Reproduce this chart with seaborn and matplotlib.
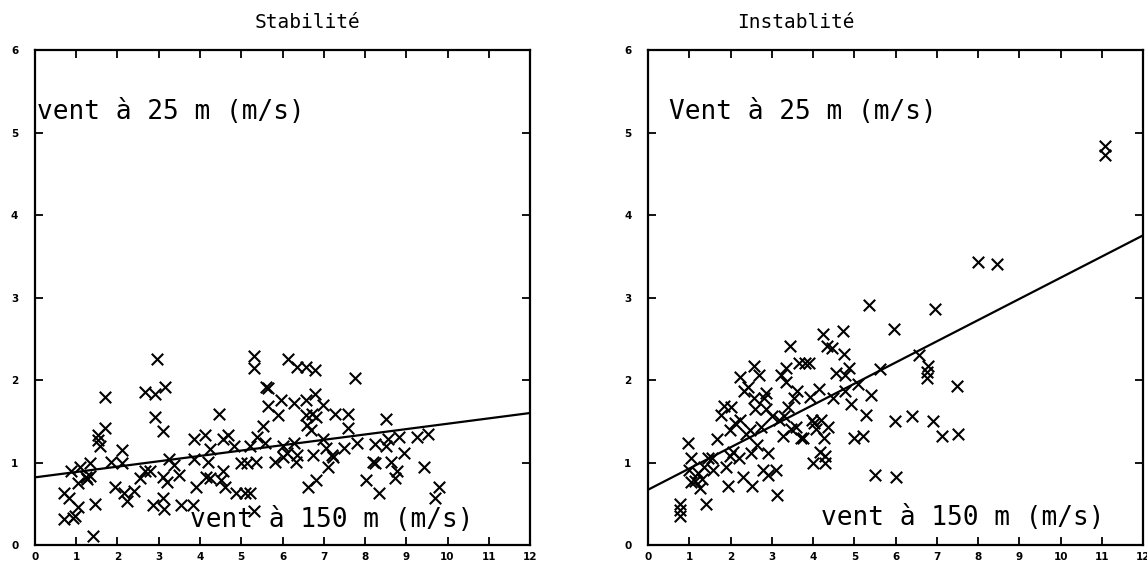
import matplotlib
matplotlib.use("Agg")
import matplotlib.pyplot as plt
import numpy as np
import pandas as pd
import seaborn as sns

# ── Data (wind at 150 m vs wind at 25 m, m/s) ────────────────────────────────

stable_x = [
    0.70, 0.70, 0.88, 0.83, 0.92, 0.96, 1.05, 1.10, 1.05, 1.23, 1.27, 1.34,
    1.34, 1.40, 1.45, 1.53, 1.58, 1.53, 1.69, 1.69, 1.84, 1.93, 2.10, 2.10,
    2.15, 2.24, 2.41, 2.54, 2.66, 2.67, 2.80, 2.85, 2.90, 2.90, 2.96, 3.10,
    3.11, 3.11, 3.13, 3.16, 3.20, 3.25, 3.38, 3.50, 3.55, 3.82, 3.86, 3.86,
    3.90, 4.12, 4.15, 4.19, 4.25, 4.25, 4.47, 4.52, 4.56, 4.56, 4.61, 4.69,
    4.82, 4.87, 5.00, 5.09, 5.13, 5.22, 5.22, 5.31, 5.32, 5.32, 5.35, 5.39,
    5.53, 5.57, 5.61, 5.64, 5.64, 5.83, 5.88, 5.96, 6.00, 6.00, 6.10, 6.14,
    6.27, 6.29, 6.32, 6.34, 6.36, 6.58, 6.58, 6.58, 6.60, 6.62, 6.69, 6.71,
    6.75, 6.78, 6.78, 6.80, 6.80, 6.97, 6.97, 7.06, 7.10, 7.19, 7.23, 7.28,
    7.50, 7.59, 7.59, 7.76, 7.81, 8.03, 8.20, 8.25, 8.25, 8.33, 8.51, 8.51,
    8.55, 8.64, 8.73, 8.77, 8.82, 8.95, 9.25, 9.43, 9.52, 9.70, 9.79,
]
stable_y = [
    0.63, 0.31, 0.90, 0.57, 0.33, 0.35, 0.75, 0.95, 0.46, 0.82, 0.80, 0.99,
    0.84, 0.11, 0.50, 1.27, 1.20, 1.33, 1.42, 1.79, 1.01, 0.70, 1.15, 0.99,
    0.63, 0.53, 0.66, 0.81, 0.90, 1.85, 0.90, 0.48, 1.83, 1.55, 2.25, 1.38,
    0.83, 0.57, 0.44, 1.92, 0.76, 1.04, 0.97, 0.85, 0.48, 0.48, 1.04, 1.28,
    0.70, 1.33, 0.83, 1.01, 1.16, 0.81, 1.59, 0.79, 0.90, 1.28, 0.70, 1.33,
    1.20, 0.63, 0.99, 0.63, 0.99, 1.20, 0.63, 0.41, 2.29, 2.14, 1.01, 1.31,
    1.44, 1.24, 1.92, 1.68, 1.90, 1.01, 1.57, 1.76, 1.20, 1.07, 1.11, 2.25,
    1.72, 1.24, 1.01, 2.16, 1.09, 2.16, 1.76, 1.57, 1.46, 0.70, 1.39, 1.59,
    1.09, 2.12, 1.83, 0.79, 1.55, 1.70, 1.29, 1.18, 0.95, 1.09, 1.07, 1.59,
    1.18, 1.59, 1.42, 2.03, 1.24, 0.79, 1.01, 1.22, 0.99, 0.63, 1.53, 1.20,
    1.29, 1.01, 0.81, 0.90, 1.31, 1.11, 1.31, 0.95, 1.35, 0.57, 0.70,
]

unstable_x = [
    0.78, 0.78, 0.78, 0.98, 1.05, 1.00, 1.05, 1.14, 1.22, 1.27, 1.31, 1.40,
    1.36, 1.45, 1.54, 1.58, 1.67, 1.76, 1.85, 1.89, 1.93, 1.98, 1.98, 2.02,
    2.07, 2.11, 2.20, 2.24, 2.24, 2.29, 2.33, 2.38, 2.42, 2.47, 2.49, 2.51,
    2.56, 2.56, 2.60, 2.64, 2.69, 2.73, 2.78, 2.82, 2.85, 2.87, 2.91, 2.91,
    3.00, 3.09, 3.13, 3.18, 3.22, 3.27, 3.29, 3.35, 3.35, 3.40, 3.44, 3.47,
    3.53, 3.58, 3.62, 3.66, 3.71, 3.75, 3.80, 3.91, 3.93, 3.97, 4.00, 4.02,
    4.06, 4.15, 4.18, 4.20, 4.24, 4.27, 4.29, 4.29, 4.33, 4.37, 4.46, 4.48,
    4.55, 4.73, 4.75, 4.77, 4.77, 4.86, 4.91, 5.00, 5.08, 5.22, 5.29, 5.35,
    5.40, 5.51, 5.62, 5.97, 5.99, 6.02, 6.40, 6.57, 6.77, 6.77, 6.79, 6.90,
    6.95, 7.12, 7.48, 7.52, 8.01, 8.46, 11.07, 11.07,
]
unstable_y = [
    0.50, 0.35, 0.43, 1.24, 1.06, 0.91, 0.76, 0.78, 0.87, 0.69, 0.80, 0.50,
    0.95, 1.06, 1.06, 0.91, 1.28, 1.58, 1.69, 0.95, 0.72, 1.39, 1.08, 1.67,
    1.13, 1.48, 1.06, 2.04, 1.52, 0.82, 1.87, 1.34, 1.91, 1.39, 1.11, 0.72,
    2.17, 1.78, 1.65, 1.21, 2.06, 1.43, 0.91, 1.78, 1.65, 1.84, 1.11, 0.85,
    1.56, 0.91, 0.61, 1.52, 2.06, 1.32, 1.56, 2.15, 1.97, 1.67, 2.41, 1.41,
    1.78, 1.43, 1.87, 2.21, 1.30, 1.30, 2.21, 2.21, 1.80, 1.52, 1.00, 1.48,
    1.41, 1.89, 1.13, 1.52, 2.56, 1.30, 1.08, 1.00, 2.41, 1.43, 2.39, 1.78,
    2.08, 2.60, 2.32, 2.06, 1.87, 2.15, 1.71, 1.30, 1.95, 1.32, 1.58, 2.91,
    1.82, 0.85, 2.13, 2.62, 1.50, 0.82, 1.56, 2.30, 2.10, 2.02, 2.17, 1.50,
    2.86, 1.32, 1.93, 1.34, 3.43, 3.41, 4.84, 4.73,
]

# regression lines as drawn in the reference (intercept, slope)
stable_fit = (0.82, 0.065)
unstable_fit = (0.67, 0.257)

panel_titles = ["Stabilité", "Instablité"]
top_labels = ["vent à 25 m (m/s)", "Vent à 25 m (m/s)"]
bottom_label = "vent à 150 m (m/s)"
x_ticks = list(range(0, 13))
y_ticks = list(range(0, 7))

# ── Style ─────────────────────────────────────────────────────────────────────

sns.set_style("ticks")
plt.rcParams["font.family"] = ["DejaVu Sans"]
plt.rcParams.update({
    "axes.linewidth": 1.6,
    "text.color": "black",
    "xtick.color": "black",
    "ytick.color": "black",
    "axes.edgecolor": "black",
})

fig = plt.figure(figsize=(11.47, 5.65), dpi=100)
ax_left = fig.add_axes([0.0305, 0.0354, 0.4316, 0.876])
ax_right = fig.add_axes([0.565, 0.0354, 0.4316, 0.876])

panels = [
    (ax_left, stable_x, stable_y, stable_fit, 0.55, (0.05, 5.25), (3.75, 0.30)),
    (ax_right, unstable_x, unstable_y, unstable_fit, 0.298, (0.50, 5.25), (4.20, 0.33)),
]

for i, (ax, xs, ys, fit, title_x, top_pos, bot_pos) in enumerate(panels):
    df = pd.DataFrame({"v150": xs, "v25": ys})
    sns.scatterplot(data=df, x="v150", y="v25", marker="x", s=68,
                    color="black", linewidth=1.5, ax=ax, zorder=3)

    # straight fitted line across the full x range
    line_x = np.array([x_ticks[0], x_ticks[-1]], dtype=float)
    line = pd.DataFrame({"x": line_x, "y": fit[0] + fit[1] * line_x})
    sns.lineplot(data=line, x="x", y="y", color="black", linewidth=1.6, ax=ax)

    ax.set_xlim(x_ticks[0], x_ticks[-1])
    ax.set_ylim(y_ticks[0], y_ticks[-1])
    ax.set_xticks(x_ticks)
    ax.set_yticks(y_ticks)
    ax.set_xlabel("")
    ax.set_ylabel("")
    ax.tick_params(axis="both", direction="in", length=6, width=1.3,
                   top=True, right=True, labelsize=7.5, colors="black")
    ax.tick_params(axis="x", pad=5)
    ax.tick_params(axis="y", pad=12)
    for lab in ax.get_xticklabels() + ax.get_yticklabels():
        lab.set_fontweight("bold")
    for sp in ax.spines.values():
        sp.set_visible(True)
        sp.set_color("black")

    ax.text(title_x, 1.055, panel_titles[i], transform=ax.transAxes,
            ha="center", va="center", fontsize=14, family="DejaVu Sans Mono")
    ax.text(top_pos[0], top_pos[1], top_labels[i], ha="left", va="center",
            fontsize=18.8, family="DejaVu Sans Mono")
    ax.text(bot_pos[0], bot_pos[1], bottom_label, ha="left", va="center",
            fontsize=18.8, family="DejaVu Sans Mono", zorder=2)

fig.savefig("out.png", dpi=100)
